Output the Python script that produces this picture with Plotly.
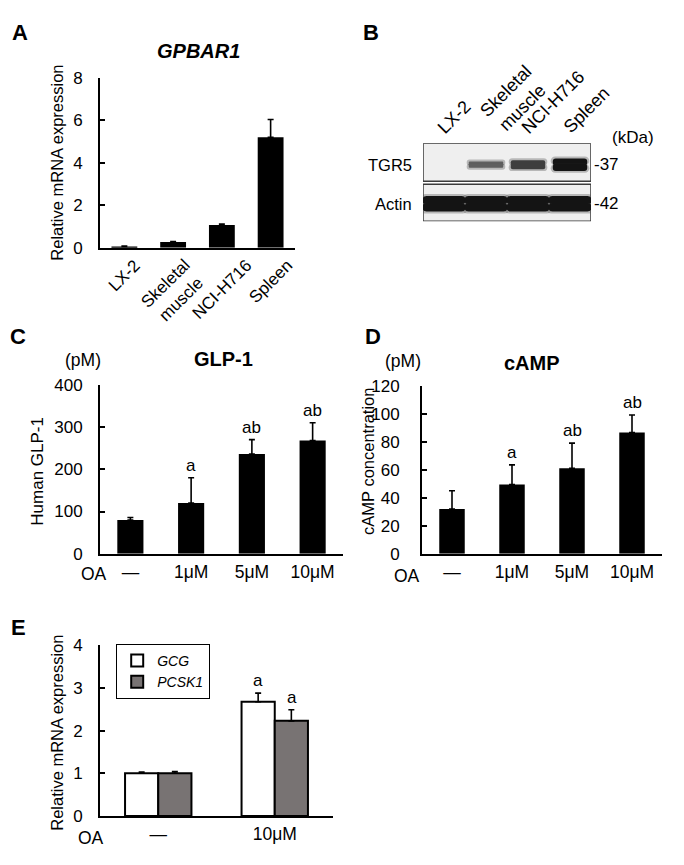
import plotly.graph_objects as go

# page body has an 8px default margin; the figure is laid out in page pixels
OFF = 8
W, H = 676, 857
FONT = "Liberation Sans, Arial, sans-serif"


def px(x):
    return (x - OFF) / W


def py(y):
    return 1 - (y - OFF) / H


# ---------------- data ----------------
# Panel A
a_cats = ["LX-2", "Skeletal<br>muscle", "NCI-H716", "Spleen"]
a_vals = [0.06, 0.27, 1.07, 5.2]
a_err = [0.02, 0.02, 0.05, 0.83]

# Panel B (western blot)
blot_lanes = ["LX-2", "Skeletal<br>muscle", "NCI-H716", "Spleen"]
blot_proteins = ["Actin", "TGR5"]
blot_kda = ["-42", "-37"]
tgr5_intensity = [0.0, 0.5, 0.72, 1.0]
actin_intensity = [1.0, 1.0, 1.0, 1.0]

# Panels C & D
oa_cats = ["—", "1μM", "5μM", "10μM"]
c_vals = [80, 120, 236, 268]
c_err = [6, 60, 34, 42]
c_sig = ["", "a", "ab", "ab"]
d_vals = [32, 49.5, 61, 86.5]
d_err = [13, 14, 18, 12.5]
d_sig = ["", "a", "ab", "ab"]

# Panel E
e_cats = ["—", "10μM"]
gcg_vals = [1.0, 2.68]
gcg_err = [0.03, 0.2]
pcsk1_vals = [1.0, 2.23]
pcsk1_err = [0.04, 0.26]
gcg_sig = ["", "a"]
pcsk1_sig = ["", "a"]

fig = go.Figure()


def err(vals):
    return dict(type="data", array=vals, arrayminus=[0] * len(vals), symmetric=False,
                color="black", thickness=1.6, width=3)


# ---------- A ----------
fig.add_trace(go.Bar(x=a_cats, y=a_vals, error_y=err(a_err), marker=dict(color="black", line=dict(width=0)),
                     width=0.53, xaxis="x", yaxis="y", showlegend=False))


# ---------- B (blot drawn as bars) ----------
def blot_band(row, intens, hmax, wmax, halo, halo_w):
    eps = 0.02
    centre = row + 0.45
    lanes = list(range(len(intens)))
    heights = [hmax * v for v in intens]
    widths = [wmax if v > 0 else 0.01 for v in intens]
    cores = [f"rgb({int(20 + (1 - v) * 150)},{int(20 + (1 - v) * 150)},{int(20 + (1 - v) * 150)})" for v in intens]
    for sign in (1, -1):
        base = [centre - sign * eps] * len(intens)
        fig.add_trace(go.Bar(x=lanes, base=base,
                             y=[sign * (h / 2 + halo + eps) if h > 0 else 0 for h in heights],
                             width=[w + halo_w if w > 0.01 else 0.01 for w in widths],
                             marker=dict(color="rgba(80,80,80,0.35)", line=dict(width=0), cornerradius="50%"),
                             xaxis="x2", yaxis="y2", showlegend=False, hoverinfo="skip"))
        fig.add_trace(go.Bar(x=lanes, base=base,
                             y=[sign * (h / 2 + eps) if h > 0 else 0 for h in heights], width=widths,
                             marker=dict(color=cores, line=dict(width=0), cornerradius="50%"),
                             xaxis="x2", yaxis="y2", showlegend=False, hoverinfo="skip"))


blot_band(0, actin_intensity, 0.40, 1.02, 0.05, 0.12)
blot_band(1, tgr5_intensity, 0.32, 0.82, 0.05, 0.1)

# ---------- C ----------
fig.add_trace(go.Bar(x=oa_cats, y=c_vals, error_y=err(c_err), marker=dict(color="black", line=dict(width=0)),
                     width=0.43, xaxis="x3", yaxis="y3", showlegend=False))
# ---------- D ----------
fig.add_trace(go.Bar(x=oa_cats, y=d_vals, error_y=err(d_err), marker=dict(color="black", line=dict(width=0)),
                     width=0.425, xaxis="x4", yaxis="y4", showlegend=False))
# ---------- E ----------
fig.add_trace(go.Bar(x=e_cats, y=gcg_vals, error_y=err(gcg_err), name="<i>GCG</i>",
                     marker=dict(color="white", line=dict(color="black", width=2)),
                     width=0.285, offset=-0.285, xaxis="x5", yaxis="y5"))
fig.add_trace(go.Bar(x=e_cats, y=pcsk1_vals, error_y=err(pcsk1_err), name="<i>PCSK1</i>",
                     marker=dict(color="#787373", line=dict(color="black", width=2)),
                     width=0.285, offset=0, xaxis="x5", yaxis="y5"))

ann = []


def text(x, y, s, size=17, bold=False, italic=False, **kw):
    if bold:
        s = f"<b>{s}</b>"
    if italic:
        s = f"<i>{s}</i>"
    d = dict(x=px(x), y=py(y), xref="paper", yref="paper", text=s, showarrow=False,
             font=dict(family=FONT, size=size, color="black"), xanchor="center", yanchor="middle")
    d.update(kw)
    ann.append(d)


# panel letters
for lab, x, y in [("A", 20, 24), ("B", 371, 24), ("C", 18, 335), ("D", 373, 335), ("E", 18, 632)]:
    text(x, y, lab, size=22, bold=True)

# titles
text(198, 43, "GPBAR1", size=20, bold=True, italic=True)
text(223, 358, "GLP-1", size=20, bold=True)
text(532, 362, "cAMP", size=20, bold=True)
text(83, 359, "(pM)", size=17.5)
text(403, 360, "(pM)", size=17.5)

# y-axis titles
text(57, 157, "Relative mRNA expression", size=16.5, textangle=-90)
text(38, 473, "Human GLP-1", size=17, textangle=-90)
text(368, 463, "cAMP concentration", size=16.5, textangle=-90)
text(57, 740, "Relative mRNA expression", size=16.5, textangle=-90)

# OA labels
text(94, 578, "OA", size=17.5)
text(407, 580, "OA", size=17.5)
text(91, 848, "OA", size=17.5)

# Panel A rotated category labels
for c in a_cats:
    ann.append(dict(x=c, y=0, xref="x", yref="y", text=c, showarrow=False, textangle=-45,
                    xanchor="center", yanchor="top", yshift=-5,
                    font=dict(family=FONT, size=17, color="black")))

# Blot lane labels
for i, c in enumerate(blot_lanes):
    ann.append(dict(x=i, y=2, xref="x2", yref="y2", text=c, showarrow=False, textangle=-45,
                    xanchor="left", yanchor="bottom", xshift=-13, yshift=3,
                    font=dict(family=FONT, size=18, color="black")))
for r, (p, k) in enumerate(zip(blot_proteins, blot_kda)):
    ann.append(dict(x=-0.5, y=r + 0.45, xref="x2", yref="y2", text=p, showarrow=False,
                    xanchor="right", yanchor="middle", xshift=-9,
                    font=dict(family=FONT, size=16.5, color="black")))
    ann.append(dict(x=3.5, y=r + 0.45, xref="x2", yref="y2", text=k, showarrow=False,
                    xanchor="left", yanchor="middle", xshift=1,
                    font=dict(family=FONT, size=17, color="black")))
ann.append(dict(x=3.5, y=2, xref="x2", yref="y2", text="(kDa)", showarrow=False,
                xanchor="left", yanchor="bottom", xshift=19, yshift=-6,
                font=dict(family=FONT, size=17, color="black")))

# significance letters
for xa, ya, cats, vals, errs, sig, xs in [
    ("x3", "y3", oa_cats, c_vals, c_err, c_sig, 0),
    ("x4", "y4", oa_cats, d_vals, d_err, d_sig, 0),
    ("x5", "y5", e_cats, gcg_vals, gcg_err, gcg_sig, -17),
    ("x5", "y5", e_cats, pcsk1_vals, pcsk1_err, pcsk1_sig, 17),
]:
    for c, v, e, s in zip(cats, vals, errs, sig):
        if s:
            ann.append(dict(x=c, y=v + e, xref=xa, yref=ya, text=s, showarrow=False,
                            xanchor="center", yanchor="bottom", yshift=1, xshift=xs,
                            font=dict(family=FONT, size=17, color="black")))

# blot frames
shapes = []
for y0, y1 in [(0, 0.95), (1.025, 2)]:
    shapes.append(dict(type="rect", xref="x2", yref="y2", x0=-0.5, x1=3.5, y0=y0, y1=y1,
                       line=dict(color="#3a3a3a", width=1.5), fillcolor="#efefef", layer="below"))


def yax(domain, rng, dtick, anchor, standoff=12):
    return dict(domain=domain, range=rng, dtick=dtick, anchor=anchor, showline=True, linecolor="black",
                linewidth=1.8, ticks="inside", ticklen=5, tickwidth=1.6, tickcolor="black", showgrid=False,
                zeroline=False, tickfont=dict(family=FONT, size=17, color="black"),
                ticklabelstandoff=standoff, fixedrange=True)


def xax(domain, anchor, showlabels=True, n=4):
    return dict(domain=domain, anchor=anchor, showline=True, linecolor="black", linewidth=1.8, ticks="",
                showgrid=False, zeroline=False, showticklabels=showlabels, range=[-0.5, n - 0.5],
                tickfont=dict(family=FONT, size=17.5, color="black"), ticklabelstandoff=1, fixedrange=True)


fig.update_layout(
    width=W, height=H, margin=dict(l=0, r=0, t=0, b=0),
    paper_bgcolor="white", plot_bgcolor="rgba(0,0,0,0)",
    font=dict(family=FONT, color="black"),
    barmode="overlay",
    xaxis=xax([px(100), px(295)], "y", showlabels=False),
    yaxis=yax([py(244), py(70)], [0, 8], 2, "x"),
    xaxis2=dict(domain=[px(423), px(591)], anchor="y2", range=[-0.5, 3.5], visible=False, fixedrange=True),
    yaxis2=dict(domain=[py(217), py(137)], anchor="x2", range=[0, 2], visible=False, fixedrange=True),
    xaxis3=xax([px(100), px(343)], "y3"),
    yaxis3=yax([py(557), py(384)], [0, 400], 100, "x3"),
    xaxis4=xax([px(422), px(662)], "y4"),
    yaxis4=yax([py(557), py(385)], [0, 120], 20, "x4", standoff=17),
    xaxis5=xax([px(100), px(333)], "y5", n=2),
    yaxis5=yax([py(825), py(650.7)], [0, 4], 1, "x5"),
    legend=dict(x=px(116), y=py(649), xanchor="left", yanchor="top", bgcolor="white",
                bordercolor="black", borderwidth=1.2, font=dict(family=FONT, size=14, color="black"),
                tracegroupgap=0, itemwidth=30),
    annotations=ann,
    shapes=shapes,
)

fig.write_html("out.html")
